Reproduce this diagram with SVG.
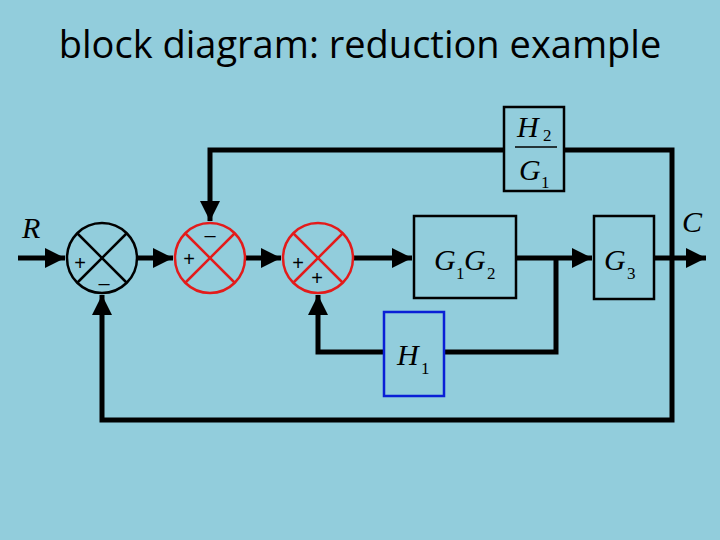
<svg xmlns="http://www.w3.org/2000/svg" width="720" height="540" viewBox="0 0 720 540">
<style>
.w{fill:none;stroke:#000;stroke-width:5}
.b{fill:none;stroke:#000;stroke-width:2.5}
.r{fill:none;stroke:#e31b1b;stroke-width:2.5}
.m{font-family:"Liberation Serif",serif;font-style:italic;font-size:30px;fill:#000}
.s{font-family:"Liberation Serif",serif;font-size:17px;fill:#000}
.p{font-family:"Liberation Sans",sans-serif;font-size:20px;fill:#000}
</style>
<defs><marker id="a" viewBox="0 0 10 10" refX="10" refY="5" markerWidth="5" markerHeight="4" orient="auto" markerUnits="strokeWidth"><path d="M0,0L10,5L0,10z" fill="#000"/></marker></defs>
<rect width="720" height="540" fill="#92CDDC"/>
<text x="360" y="58" text-anchor="middle" font-family="'Open Sans','Liberation Sans',sans-serif" font-size="38">block diagram: reduction example</text>
<g id="connectors">
<path class="w" d="M18,258H65" marker-end="url(#a)"/>
<path class="w" d="M137,258H173" marker-end="url(#a)"/>
<path class="w" d="M245,258H281" marker-end="url(#a)"/>
<path class="w" d="M353,258H412" marker-end="url(#a)"/>
<path class="w" d="M516,258H592" marker-end="url(#a)"/>
<path class="w" d="M654,258H706" marker-end="url(#a)"/>
<path class="w" d="M556,258V352H444"/>
<path class="w" d="M384,352H318V295" marker-end="url(#a)"/>
<path class="w" d="M504,150H210V221" marker-end="url(#a)"/>
<path class="w" d="M564,150H672V420H102V295" marker-end="url(#a)"/>
</g>
<g id="sum1"><circle class="b" cx="102" cy="258" r="35"/><path class="b" d="M77,233L127,283M127,233L77,283"/><text class="p" x="80" y="270" text-anchor="middle">+</text><text class="p" x="104" y="290" text-anchor="middle">–</text></g>
<g id="sum2"><circle class="r" cx="210" cy="258" r="35"/><path class="r" d="M185,233L235,283M235,233L185,283"/><text class="p" x="189" y="266" text-anchor="middle">+</text><text class="p" x="210" y="242" text-anchor="middle">–</text></g>
<g id="sum3"><circle class="r" cx="318" cy="258" r="35"/><path class="r" d="M293,233L343,283M343,233L293,283"/><text class="p" x="298" y="270" text-anchor="middle">+</text><text class="p" x="317" y="285" text-anchor="middle">+</text></g>
<g id="G1G2"><rect class="b" x="414" y="216" width="102" height="82"/><text class="m" x="434" y="270">G</text><text class="s" x="456" y="279">1</text><text class="m" x="464" y="270">G</text><text class="s" x="487" y="279">2</text></g>
<g id="G3"><rect class="b" x="594" y="216" width="60" height="83"/><text class="m" x="604" y="270">G</text><text class="s" x="627" y="279">3</text></g>
<g id="H2G1"><rect class="b" x="504" y="107" width="60" height="84"/><text class="m" x="517" y="137">H</text><text class="s" x="543" y="141">2</text><path d="M515,147H557" stroke="#000" stroke-width="1.5"/><text class="m" x="519" y="180">G</text><text class="s" x="541" y="188">1</text></g>
<g id="H1"><rect x="384" y="312" width="60" height="84" fill="none" stroke="#0a1fd6" stroke-width="2.5"/><text class="m" x="397" y="365">H</text><text class="s" x="421" y="374">1</text></g>
<text class="m" x="22" y="238">R</text>
<text class="m" x="682" y="232">C</text>
</svg>
